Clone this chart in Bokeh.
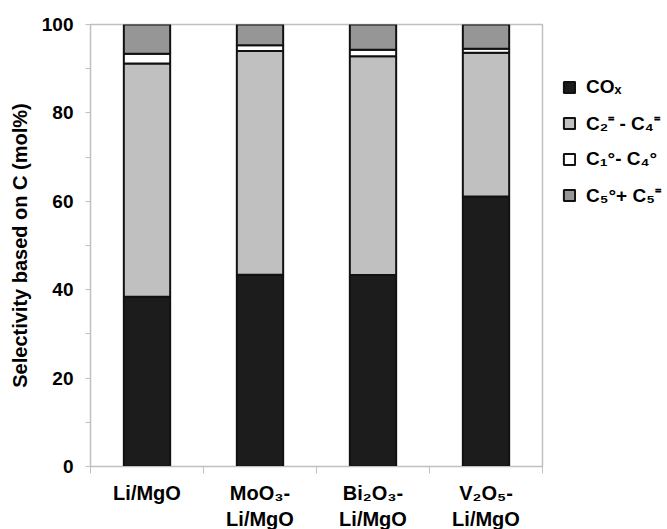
from bokeh.plotting import figure
from bokeh.models import Range1d, FixedTicker, Legend, LegendItem, ColumnDataSource
from bokeh.embed import file_html
from bokeh.resources import INLINE

categories = ["Li/MgO", "MoO\u2083-\nLi/MgO", "Bi\u2082O\u2083-\nLi/MgO", "V\u2082O\u2085-\nLi/MgO"]
cox = [38.4, 43.4, 43.3, 61.1]
c2c4 = [52.8, 50.6, 49.5, 32.5]
c1c4 = [2.2, 1.3, 1.5, 0.9]
c5 = [6.6, 4.7, 5.7, 5.5]
series_names = ["CO\u2093", "C\u2082\u207c - C\u2084\u207c", "C\u2081\u00b0- C\u2084\u00b0", "C\u2085\u00b0+ C\u2085\u207c"]
colors = ["#1c1c1c", "#c0c0c0", "#ffffff", "#969696"]
y_ticks = [0, 20, 40, 60, 80, 100]
y_minor = [10, 30, 50, 70, 90]

xs = list(range(1, len(categories) + 1))
source = ColumnDataSource(dict(x=xs, cox=cox, c2c4=c2c4, c1c4=c1c4, c5=c5))

FONT = "Liberation Sans"

p = figure(frame_width=452, frame_height=442, output_backend="svg", toolbar_location=None,
           x_range=Range1d(0.5, len(categories) + 0.5), y_range=Range1d(0, 100),
           min_border_left=90, min_border_right=0, min_border_top=24, min_border_bottom=0)
p.outline_line_color = "#c0c0c0"
p.outline_line_width = 1.5
p.grid.visible = False
p.background_fill_color = "white"
p.border_fill_color = "white"

rs = p.vbar_stack(["cox", "c2c4", "c1c4", "c5"], x="x", width=0.41, source=source,
                  fill_color=colors, line_color="#111111", line_width=2)

# y axis
ya = p.yaxis[0]
ya.ticker = FixedTicker(ticks=y_ticks, minor_ticks=y_minor)
ya.axis_line_color = "#c0c0c0"
ya.major_tick_line_color = "#c0c0c0"
ya.minor_tick_line_color = "#c0c0c0"
ya.major_tick_in = 0
ya.major_tick_out = 5
ya.minor_tick_in = 0
ya.minor_tick_out = 5
ya.major_label_text_font = FONT
ya.major_label_text_font_style = "bold"
ya.major_label_text_font_size = "19px"
ya.major_label_text_color = "black"
ya.major_label_standoff = 12
ya.axis_label = "Selectivity based on C (mol%)"
ya.axis_label_text_font = FONT
ya.axis_label_text_font_style = "bold"
ya.axis_label_text_font_size = "20px"
ya.axis_label_text_color = "black"
ya.axis_label_standoff = 8

# x axis
xa = p.xaxis[0]
xa.ticker = FixedTicker(ticks=xs, minor_ticks=[x - 0.5 for x in xs] + [xs[-1] + 0.5])
xa.major_label_overrides = {x: c for x, c in zip(xs, categories)}
xa.axis_line_color = "#c0c0c0"
xa.major_tick_in = 0
xa.major_tick_out = 0
xa.minor_tick_line_color = "#c0c0c0"
xa.minor_tick_in = 0
xa.minor_tick_out = 7
xa.major_label_text_font = FONT
xa.major_label_text_font_style = "bold"
xa.major_label_text_font_size = "20px"
xa.major_label_text_color = "black"
xa.major_label_standoff = 8

items = [LegendItem(label=n, renderers=[r]) for n, r in zip(series_names, rs)]
legend = Legend(items=items, location=(20, 258), orientation="vertical",
                label_text_font=FONT, label_text_font_style="bold",
                label_text_font_size="19px", label_text_color="black",
                glyph_width=14, glyph_height=14,
                label_height=14, spacing=12, label_standoff=10, border_line_color=None,
                background_fill_alpha=0, padding=0, margin=0)
p.add_layout(legend, "right")

open("out.html", "w").write(file_html(p, INLINE))
